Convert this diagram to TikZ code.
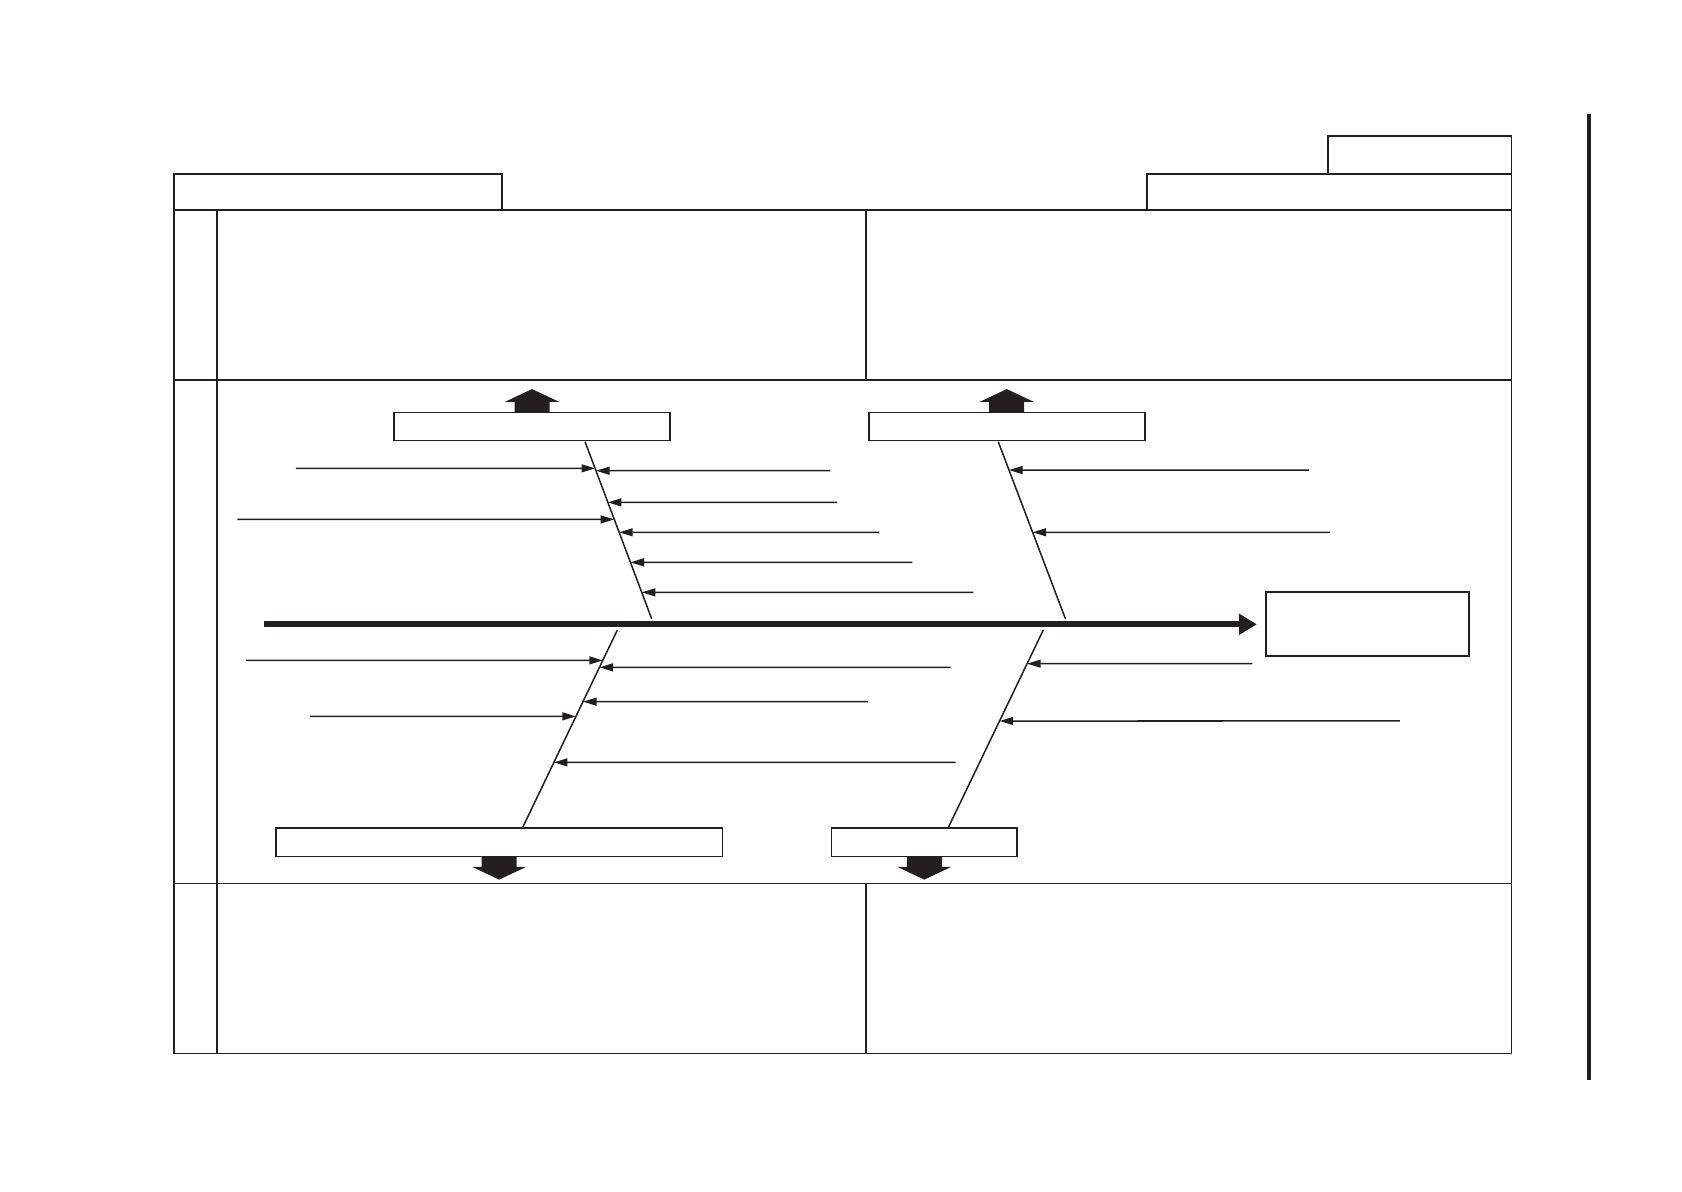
\documentclass[tikz,border=0pt]{standalone}
\usepackage{tikz}
\usetikzlibrary{positioning,arrows.meta}
\definecolor{tinta}{HTML}{231F20}
\newcommand{\flechagorda}[2]{\fill[tinta] (#1) ++(-16.3,0) -- ++(0,{-9.7*(#2)}) -- ++(-9.1,0) -- ++(25.4,{-12*(#2)})
  -- ++(25.4,{12*(#2)}) -- ++(-9.1,0) -- ++(0,{9.7*(#2)}) -- cycle;}
\newcommand{\ramal}[3]{\draw[fl] (#1) -- (intersection cs:first line={(#2)--(#3)},second line={(#1)--(#1 -| #2)});}

\begin{document}
\begin{tikzpicture}[x=0.01cm,y=-0.01cm,
      caja/.style={draw=tinta,line width=0.45pt,inner sep=0pt,outer sep=0pt,minimum height=0.261cm},
      marco/.style={draw=tinta,line width=0.45pt},
      hueso/.style={draw=tinta,line width=0.4pt},
      fl/.style={-{Triangle[length=3.6pt,width=2.1pt]},line width=0.4pt,tinta},
      espina/.style={-{Triangle[length=4.7pt,width=5.3pt]},line width=1.6pt,tinta},
      node distance=0pt]
    \useasboundingbox (0,0) rectangle (1568,1111);
    \coordinate (no) at (162.5,195.8);
    \coordinate (ne) at (1409,195.8);
    \coordinate (se) at (1409,982);
    \draw[marco] (no) rectangle (se);
    \draw[marco] (202.4,195.8) -- (202.4,982);
    \draw[marco] (162.5,354.5) -- (1409,354.5);
    \draw[marco] (162.5,823.5) -- (1409,823.5);
    \draw[marco] (807.6,195.8) -- (807.6,354.5);
    \draw[marco] (807.6,823.5) -- (807.6,982);
    \node[caja,minimum width=3.053cm,minimum height=0.336cm,above right=of no] (tit1) {};
    \node[caja,minimum width=3.393cm,minimum height=0.336cm,above left=of ne] (tit2) {};
    \node[caja,minimum width=1.71cm,minimum height=0.354cm,above left=of tit2.north east] (tit3) {};
    \coordinate (r1) at (1481.3,106);
    \coordinate (r2) at (1481.3,1006.8);
    \draw[tinta,line width=0.9pt] (r1) -- (r2);
    \node[caja,minimum width=2.567cm] (causa1) at (496,397.45) {};
    \node[caja,minimum width=2.57cm] (causa2) at (938.5,397.45) {};
    \node[caja,minimum width=4.161cm] (causa3) at (465.35,785.25) {};
    \node[caja,minimum width=1.727cm] (causa4) at (861.65,785.25) {};
    \node[caja,minimum width=1.887cm,minimum height=0.596cm] (efecto) at (1274.9,582) {};
    \flechagorda{causa1.north}{1}
    \flechagorda{causa2.north}{1}
    \flechagorda{causa3.south}{-1}
    \flechagorda{causa4.south}{-1}
    \coordinate (cola) at (246.1,582);
    \draw[espina,shorten >=2.5pt] (cola) -- (efecto);
    \coordinate (h1a) at (545.4,411.8);
    \coordinate (h1b) at (607.5,576.8);
    \coordinate (h2a) at (930.6,411.8);
    \coordinate (h2b) at (993.2,576.8);
    \coordinate (h3a) at (575.5,587.3);
    \coordinate (h3b) at (487.2,771.5);
    \coordinate (h4a) at (972.6,587.3);
    \coordinate (h4b) at (884,771.5);
    \draw[hueso] (h1a) -- (h1b);
    \draw[hueso] (h2a) -- (h2b);
    \draw[hueso] (h3a) -- (h3b);
    \draw[hueso] (h4a) -- (h4b);
    \coordinate (c1) at (275.9,436.6);
    \coordinate (c2) at (221.2,484.2);
    \coordinate (c3) at (774,438.8);
    \coordinate (c4) at (780.5,468.3);
    \coordinate (c5) at (819.5,496.2);
    \coordinate (c6) at (850.5,524.2);
    \coordinate (c7) at (907.5,552.2);
    \coordinate (c8) at (1220.2,438.2);
    \coordinate (c9) at (1239.9,496.2);
    \coordinate (c10) at (229.3,615.6);
    \coordinate (c11) at (289,667.8);
    \coordinate (c12) at (886.3,622.1);
    \coordinate (c13) at (809.2,654.1);
    \coordinate (c14) at (890.9,710.7);
    \coordinate (c15) at (1167.4,618.7);
    \coordinate (c16) at (1305.1,672.1);
    \ramal{c1}{h1a}{h1b}
    \ramal{c2}{h1a}{h1b}
    \ramal{c3}{h1a}{h1b}
    \ramal{c4}{h1a}{h1b}
    \ramal{c5}{h1a}{h1b}
    \ramal{c6}{h1a}{h1b}
    \ramal{c7}{h1a}{h1b}
    \ramal{c8}{h2a}{h2b}
    \ramal{c9}{h2a}{h2b}
    \ramal{c10}{h3a}{h3b}
    \ramal{c11}{h3a}{h3b}
    \ramal{c12}{h3a}{h3b}
    \ramal{c13}{h3a}{h3b}
    \ramal{c14}{h3a}{h3b}
    \ramal{c15}{h4a}{h4b}
    \ramal{c16}{h4a}{h4b}
  \end{tikzpicture}
\end{document}
